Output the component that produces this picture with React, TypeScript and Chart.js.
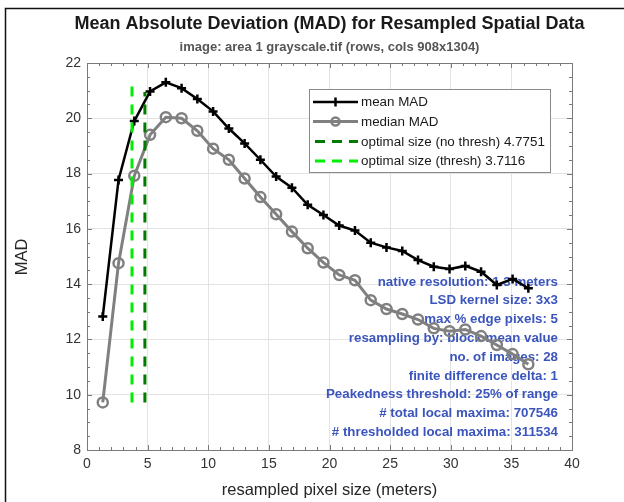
import React, { useEffect, useRef } from "react";
import { Chart, registerables } from "chart.js";

Chart.register(...registerables);

const FONT = "'Liberation Sans', Arial, Helvetica, sans-serif";

const pixelSizes = [1.3, 2.6, 3.9, 5.2, 6.5, 7.8, 9.1, 10.4, 11.7, 13.0, 14.3, 15.6, 16.9, 18.2, 19.5, 20.8, 22.1, 23.4, 24.7, 26.0, 27.3, 28.6, 29.9, 31.2, 32.5, 33.8, 35.1, 36.4];
const meanMAD = [12.83, 17.77, 19.9, 20.97, 21.3, 21.09, 20.7, 20.25, 19.63, 19.09, 18.5, 17.89, 17.49, 16.87, 16.5, 16.12, 15.94, 15.5, 15.33, 15.2, 14.87, 14.63, 14.55, 14.66, 14.45, 13.97, 14.19, 13.85];
const medianMAD = [9.72, 14.76, 17.92, 19.4, 20.04, 20.0, 19.55, 18.9, 18.5, 17.82, 17.15, 16.53, 15.9, 15.3, 14.78, 14.33, 14.14, 13.42, 13.1, 12.92, 12.72, 12.4, 12.3, 12.36, 12.12, 11.8, 11.47, 11.1];

const optimalNoThresh = 4.7751;
const optimalThresh = 3.7116;
const optimalNoThreshRange = [9.72, 20.95];
const optimalThreshRange = [9.72, 21.3];

const legendLabels = [
  "mean MAD",
  "median MAD",
  "optimal size (no thresh) 4.7751",
  "optimal size (thresh) 3.7116",
];

const annotationLines = [
  "native resolution: 1.3 meters",
  "LSD kernel size: 3x3",
  "max % edge pixels: 5",
  "resampling by: block mean value",
  "no. of images: 28",
  "finite difference delta: 1",
  "Peakedness threshold: 25% of range",
  "# total local maxima: 707546",
  "# thresholded local maxima: 311534",
];

const titleText = "Mean Absolute Deviation (MAD) for Resampled Spatial Data";
const subtitleText = "image: area 1 grayscale.tif (rows, cols 908x1304)";
const xTitle = "resampled pixel size (meters)";
const yTitle = "MAD";

const X_MIN = 0, X_MAX = 40, X_STEP = 5, X_MINOR = 1;
const Y_MIN = 8, Y_MAX = 22, Y_STEP = 2, Y_MINOR = 0.5;

const DARK_GREEN = "#007a00";
const LIGHT_GREEN = "#00ee00";
const MEDIAN_GRAY = "#808080";
const ANNOT_BLUE = "#3b55bd";

const figurePlugin = {
  id: "figureDecor",
  beforeDraw(chart: any) {
    const ctx = chart.ctx;
    const { left, right } = chart.chartArea;
    const cx = (left + right) / 2;
    ctx.save();
    ctx.fillStyle = "#ffffff";
    ctx.fillRect(0, 0, chart.width, chart.height);
    // figure frame
    ctx.strokeStyle = "#111";
    ctx.lineWidth = 1.5;
    ctx.beginPath();
    ctx.moveTo(5.5, chart.height);
    ctx.lineTo(5.5, 8.5);
    ctx.lineTo(chart.width, 8.5);
    ctx.stroke();
    // titles
    ctx.fillStyle = "#1a1a1a";
    ctx.textAlign = "center";
    ctx.textBaseline = "middle";
    ctx.font = `bold 18px ${FONT}`;
    ctx.fillText(titleText, cx, 24);
    ctx.fillStyle = "#555555";
    ctx.font = `bold 13px ${FONT}`;
    ctx.fillText(subtitleText, cx, 47);
    // axis titles
    ctx.fillStyle = "#262626";
    ctx.font = `16.5px ${FONT}`;
    ctx.fillText(xTitle, cx, 490);
    ctx.save();
    ctx.translate(22, 257);
    ctx.rotate(-Math.PI / 2);
    ctx.fillText(yTitle, 0, 0);
    ctx.restore();
    ctx.restore();
  },
  beforeDatasetsDraw(chart: any) {
    const ctx = chart.ctx;
    ctx.save();
    ctx.fillStyle = ANNOT_BLUE;
    ctx.font = `bold 13.3px ${FONT}`;
    ctx.textAlign = "right";
    ctx.textBaseline = "middle";
    annotationLines.forEach((t, i) => {
      ctx.fillText(t, 558, 282 + i * 18.8);
    });
    ctx.restore();
  },
  afterDatasetsDraw(chart: any) {
    const ctx = chart.ctx;
    const { left, right, top, bottom } = chart.chartArea;
    const xs = chart.scales.x;
    const ys = chart.scales.y;
    ctx.save();
    ctx.strokeStyle = "#7a7a7a";
    ctx.lineWidth = 1;
    ctx.strokeRect(Math.round(left) + 0.5, Math.round(top) + 0.5, Math.round(right - left), Math.round(bottom - top));
    ctx.beginPath();
    for (let v = X_MIN; v <= X_MAX + 1e-9; v += X_MINOR) {
      const px = Math.round(xs.getPixelForValue(v)) + 0.5;
      const major = Math.abs(v / X_STEP - Math.round(v / X_STEP)) < 1e-6;
      const len = major ? 5 : 3;
      ctx.moveTo(px, bottom);
      ctx.lineTo(px, bottom - len);
      ctx.moveTo(px, top);
      ctx.lineTo(px, top + len);
    }
    for (let v = Y_MIN; v <= Y_MAX + 1e-9; v += Y_MINOR) {
      const py = Math.round(ys.getPixelForValue(v)) + 0.5;
      const major = Math.abs(v / Y_STEP - Math.round(v / Y_STEP)) < 1e-6;
      const len = major ? 5 : 3;
      ctx.moveTo(left, py);
      ctx.lineTo(left + len, py);
      ctx.moveTo(right, py);
      ctx.lineTo(right - len, py);
    }
    ctx.stroke();
    ctx.restore();
  },
  afterDraw(chart: any) {
    const ctx = chart.ctx;
    ctx.save();
    // legend box
    const bx = 309.5, by = 89.5, bw = 241, bh = 83;
    ctx.fillStyle = "#ffffff";
    ctx.fillRect(bx, by, bw, bh);
    ctx.strokeStyle = "#8a8a8a";
    ctx.lineWidth = 1;
    ctx.strokeRect(bx, by, bw, bh);
    const rows = [102, 121.5, 141.5, 161];
    const x0 = 313, x1 = 358, xm = (x0 + x1) / 2;
    // mean
    ctx.strokeStyle = "#000";
    ctx.lineWidth = 2.5;
    ctx.beginPath();
    ctx.moveTo(x0, rows[0]); ctx.lineTo(x1, rows[0]);
    ctx.moveTo(xm, rows[0] - 4.5); ctx.lineTo(xm, rows[0] + 4.5);
    ctx.stroke();
    // median
    ctx.strokeStyle = MEDIAN_GRAY;
    ctx.lineWidth = 3;
    ctx.beginPath();
    ctx.moveTo(x0, rows[1]); ctx.lineTo(x1, rows[1]);
    ctx.stroke();
    ctx.lineWidth = 2.5;
    ctx.beginPath();
    ctx.arc(xm, rows[1], 4, 0, Math.PI * 2);
    ctx.stroke();
    // dashed
    ctx.setLineDash([10, 7]);
    ctx.lineWidth = 3;
    ctx.strokeStyle = DARK_GREEN;
    ctx.beginPath();
    ctx.moveTo(x0 + 2, rows[2]); ctx.lineTo(x1, rows[2]);
    ctx.stroke();
    ctx.strokeStyle = LIGHT_GREEN;
    ctx.beginPath();
    ctx.moveTo(x0 + 2, rows[3]); ctx.lineTo(x1, rows[3]);
    ctx.stroke();
    ctx.setLineDash([]);
    ctx.fillStyle = "#1a1a1a";
    ctx.font = `13.4px ${FONT}`;
    ctx.textAlign = "left";
    ctx.textBaseline = "middle";
    legendLabels.forEach((t, i) => ctx.fillText(t, 361, rows[i] + 0.5));
    ctx.restore();
  },
};

export default function App() {
  const ref = useRef<HTMLCanvasElement | null>(null);
  useEffect(() => {
    if (!ref.current) return;
    const meanData = pixelSizes.map((x, i) => ({ x, y: meanMAD[i] }));
    const medianData = pixelSizes.map((x, i) => ({ x, y: medianMAD[i] }));
    const chart = new Chart(ref.current, {
      type: "line",
      data: {
        datasets: [
          {
            label: legendLabels[2],
            data: [
              { x: optimalNoThresh, y: optimalNoThreshRange[0] },
              { x: optimalNoThresh, y: optimalNoThreshRange[1] },
            ],
            borderColor: DARK_GREEN,
            borderWidth: 3,
            borderDash: [10, 8],
            pointRadius: 0,
          },
          {
            label: legendLabels[3],
            data: [
              { x: optimalThresh, y: optimalThreshRange[0] },
              { x: optimalThresh, y: optimalThreshRange[1] },
            ],
            borderColor: LIGHT_GREEN,
            borderWidth: 3,
            borderDash: [10, 8],
            pointRadius: 0,
          },
          {
            label: legendLabels[1],
            data: medianData,
            borderColor: MEDIAN_GRAY,
            borderWidth: 3,
            pointStyle: "circle",
            pointRadius: 5,
            pointBackgroundColor: "rgba(0,0,0,0)",
            pointBorderColor: MEDIAN_GRAY,
            pointBorderWidth: 2.5,
          },
          {
            label: legendLabels[0],
            data: meanData,
            borderColor: "#000000",
            borderWidth: 2.5,
            pointStyle: "cross",
            pointRadius: 4.5,
            pointBorderColor: "#000000",
            pointBorderWidth: 2.5,
          },
        ],
      },
      options: {
        animation: false,
        responsive: false,
        devicePixelRatio: 1,
        layout: { padding: { left: 0, top: 63, right: 52, bottom: 0 } },
        elements: { line: { tension: 0 } },
        plugins: {
          legend: { display: false },
          title: { display: false },
          tooltip: { enabled: false },
        },
        scales: {
          x: {
            type: "linear",
            min: X_MIN,
            max: X_MAX,
            afterFit: (s: any) => { s.height = 52; },
            ticks: {
              stepSize: X_STEP,
              color: "#333333",
              font: { family: FONT, size: 14 },
              padding: 6,
              maxRotation: 0,
            },
            grid: { color: "#e3e3e3", drawTicks: false, lineWidth: 1 },
            border: { display: false },
          },
          y: {
            type: "linear",
            min: Y_MIN,
            max: Y_MAX,
            afterFit: (s: any) => { s.width = 87; },
            ticks: {
              stepSize: Y_STEP,
              color: "#333333",
              font: { family: FONT, size: 14 },
              padding: 6,
            },
            grid: { color: "#e3e3e3", drawTicks: false, lineWidth: 1 },
            border: { display: false },
          },
        },
      },
      plugins: [figurePlugin],
    } as any);
    return () => chart.destroy();
  }, []);
  return (
    <div style={{ position: "absolute", left: 0, top: 0, width: 624, height: 502 }}>
      <canvas ref={ref} width={624} height={502} style={{ display: "block", width: 624, height: 502 }} />
    </div>
  );
}
